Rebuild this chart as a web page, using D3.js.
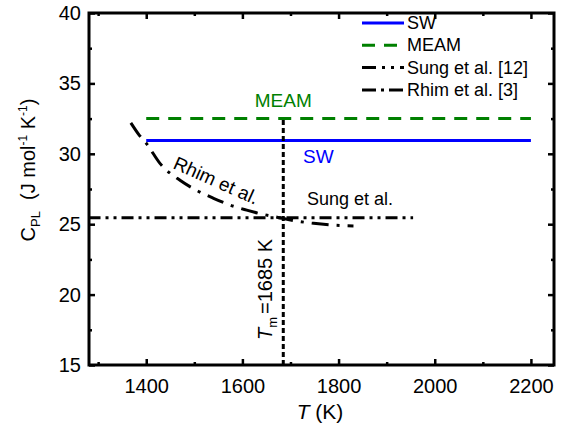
<!DOCTYPE html>
<html>
<head>
<meta charset="utf-8" />
<title>Cp of liquid Si</title>
<style>
  body { margin: 0; background: #fff; }
  text { font-family: "Liberation Sans", Arial, sans-serif; }
</style>
</head>
<body>
<script src="https://d3js.org/d3.v7.min.js"></script>
<script>
// data
var swT = [1400, 2200], swC = [30.95, 30.95];
var meamT = [1400, 2200], meamC = [32.5, 32.5];
var sungT = [1280, 1955], sungC = [25.45, 25.45];
var rhimT = [1368, 1385, 1401, 1429, 1471, 1505, 1540, 1575, 1609, 1640, 1672, 1700, 1748, 1790, 1831];
var rhimC = [32.2, 31.35, 30.7, 29.3, 28.1, 27.4, 26.84, 26.35, 26.0, 25.72, 25.5, 25.3, 25.06, 24.93, 24.88];
var meltT = 1685;
var xTicks = [1400, 1600, 1800, 2000, 2200];
var xMinor = [1300, 1500, 1700, 1900, 2100];
var yTicks = [15, 20, 25, 30, 35, 40];
var yMinor = [17.5, 22.5, 27.5, 32.5, 37.5];

var W = 568, H = 431;
var margin = {left: 89, right: 14, top: 13, bottom: 66};
var iw = W - margin.left - margin.right, ih = H - margin.top - margin.bottom;

var svg = d3.select("body").append("svg").attr("width", W).attr("height", H);
var g = svg.append("g").attr("transform", "translate(" + margin.left + "," + margin.top + ")");

var x = d3.scaleLinear().domain([1281, 2248]).range([0, iw]);
var y = d3.scaleLinear().domain([15, 40]).range([ih, 0]);

function zip(a, b) { return a.map(function(v, i) { return [v, b[i]]; }); }

var line = d3.line().x(d => x(d[0])).y(d => y(d[1]));
var smooth = d3.line().x(d => x(d[0])).y(d => y(d[1])).curve(d3.curveMonotoneX);

// axes, ticks inward
function axisSet(axisFn, scale, ticks, minor, tr, labels) {
  var a = g.append("g").attr("transform", tr)
    .call(axisFn(scale).tickValues(ticks).tickSizeInner(-6).tickSizeOuter(0).tickPadding(labels ? 14 : 0)
      .tickFormat(labels ? d3.format("d") : ""));
  var m = g.append("g").attr("transform", tr)
    .call(axisFn(scale).tickValues(minor).tickSizeInner(-3).tickSizeOuter(0).tickFormat(""));
  [a, m].forEach(function(s) {
    s.select(".domain").remove();
    s.selectAll("line").attr("stroke", "#000").attr("stroke-width", 2.5);
  });
  a.selectAll("text").attr("font-size", 20).attr("fill", "#000")
    .style("font-family", "'Liberation Sans', Arial, sans-serif");
  return a;
}
axisSet(d3.axisBottom, x, xTicks, xMinor, "translate(0," + ih + ")", true);
axisSet(d3.axisTop, x, xTicks, xMinor, "translate(0,0)", false);
var ya = axisSet(d3.axisLeft, y, yTicks, yMinor, "translate(0,0)", true);
ya.selectAll("text").attr("dx", 6);
axisSet(d3.axisRight, y, yTicks, yMinor, "translate(" + iw + ",0)", false);

g.append("rect").attr("width", iw).attr("height", ih)
  .attr("fill", "none").attr("stroke", "#000").attr("stroke-width", 3);

// series
g.append("path").attr("d", line(zip(swT, swC)))
  .attr("fill", "none").attr("stroke", "#0000ff").attr("stroke-width", 3);
g.append("path").attr("d", line(zip(meamT, meamC)))
  .attr("fill", "none").attr("stroke", "#008000").attr("stroke-width", 3).attr("stroke-dasharray", "13,9");
g.append("path").attr("d", line(zip(sungT, sungC)))
  .attr("fill", "none").attr("stroke", "#000").attr("stroke-width", 3).attr("stroke-dasharray", "12,5,3,5,3,5");
g.append("path").attr("d", smooth(zip(rhimT, rhimC)))
  .attr("fill", "none").attr("stroke", "#000").attr("stroke-width", 3).attr("stroke-dasharray", "17,8,3,8");
g.append("path").attr("d", line([[meltT, 15], [meltT, meamC[0]]]))
  .attr("fill", "none").attr("stroke", "#000").attr("stroke-width", 3).attr("stroke-dasharray", "5,3");

// annotations
g.append("text").attr("x", x(1685)).attr("y", 94).attr("text-anchor", "middle")
  .attr("font-size", 19).attr("fill", "#008000").text("MEAM");
g.append("text").attr("x", 214).attr("y", 150)
  .attr("font-size", 19).attr("fill", "#0000ff").text("SW");
g.append("text").attr("x", 218).attr("y", 192)
  .attr("font-size", 18).attr("fill", "#000").text("Sung et al.");
g.append("text").attr("transform", "translate(83,155) rotate(24)")
  .attr("font-size", 19).attr("fill", "#000").text("Rhim et al.");
var tm = g.append("text").attr("transform", "translate(" + (x(meltT) - 11) + "," + 327 + ") rotate(-90)")
  .attr("font-size", 20).attr("fill", "#000");
tm.append("tspan").attr("font-style", "italic").text("T");
tm.append("tspan").attr("font-size", 13).attr("dy", 5).text("m");
tm.append("tspan").attr("dy", -5).attr("dx", 3).text("=1685 K");

// legend
var legend = [
  {name: "SW", color: "#0000ff", dash: null},
  {name: "MEAM", color: "#008000", dash: "13,9"},
  {name: "Sung et al. [12]", color: "#000", dash: "14,6,3,6,3,6"},
  {name: "Rhim et al. [3]", color: "#000", dash: "14,5,3,5"}
];
var lg = svg.append("g").attr("transform", "translate(362,23)");
legend.forEach(function(d, i) {
  var r = lg.append("g").attr("transform", "translate(0," + (i * 22.3) + ")");
  r.append("line").attr("x1", 0).attr("x2", 42).attr("stroke", d.color)
    .attr("stroke-width", 3).attr("stroke-dasharray", d.dash);
  r.append("text").attr("x", 45).attr("y", 6).attr("font-size", 18).attr("fill", "#000").text(d.name);
});

// axis titles
var yl = svg.append("text").attr("transform", "translate(35,170) rotate(-90)")
  .attr("text-anchor", "middle").attr("font-size", 20).attr("fill", "#000");
yl.append("tspan").text("C");
yl.append("tspan").attr("font-size", 13).attr("dy", 5).text("PL");
yl.append("tspan").attr("dy", -5).attr("xml:space", "preserve").text("  (J mol");
yl.append("tspan").attr("font-size", 12).attr("dy", -8).text("-1");
yl.append("tspan").attr("dy", 8).text(" K");
yl.append("tspan").attr("font-size", 12).attr("dy", -8).text("-1");
yl.append("tspan").attr("dy", 8).text(")");

var xl = svg.append("text").attr("x", 320).attr("y", 419).attr("text-anchor", "middle")
  .attr("font-size", 21).attr("fill", "#000");
xl.append("tspan").attr("font-style", "italic").text("T");
xl.append("tspan").text(" (K)");
</script>
</body>
</html>
